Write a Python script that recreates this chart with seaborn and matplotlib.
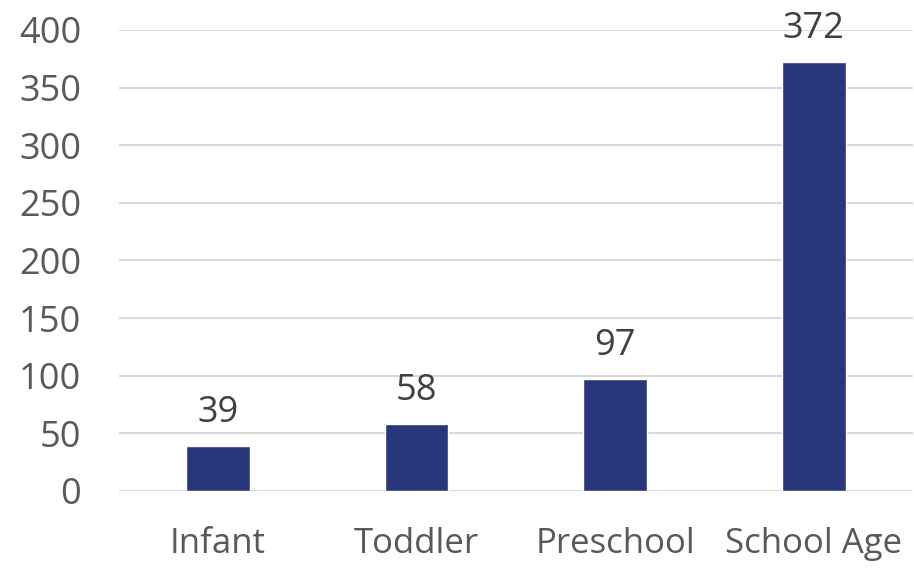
import pandas as pd
import matplotlib.pyplot as plt
import seaborn as sns

# Chart data
categories = ["Infant", "Toddler", "Preschool", "School Age"]
counts = [39, 58, 97, 372]
y_ticks = [0, 50, 100, 150, 200, 250, 300, 350, 400]

df = pd.DataFrame({"Age Group": categories, "Count": counts})

sns.set_style("white")
plt.rcParams['font.family'] = ['Open Sans', 'DejaVu Sans']

fig = plt.figure(figsize=(9.14, 5.68), dpi=100)
ax = fig.add_axes([0.130, 0.1356, 0.869, 0.8116])

sns.barplot(data=df, x="Age Group", y="Count", color="#283779", width=0.32,
            saturation=1, ax=ax, zorder=3)

ax.set_ylim(0, 400)
ax.set_yticks(y_ticks)
ax.set_xlim(-0.5, 3.5)
ax.yaxis.grid(True, color="#d9d9d9", linewidth=1.5, zorder=0)
ax.set_axisbelow(True)
for s in ax.spines.values():
    s.set_visible(False)
ax.set_xlabel("")
ax.set_ylabel("")
ax.tick_params(axis="both", length=0, labelsize=26, labelcolor="#595959")
ax.tick_params(axis="y", pad=27)
ax.tick_params(axis="x", labelsize=25, pad=26)

# Value labels above bars
for i, v in enumerate(counts):
    ax.annotate(str(v), (i, v), xytext=(0, 11), textcoords="offset points",
                ha="center", va="bottom", fontsize=26, color="#404040")

plt.savefig("out.png", dpi=100)
